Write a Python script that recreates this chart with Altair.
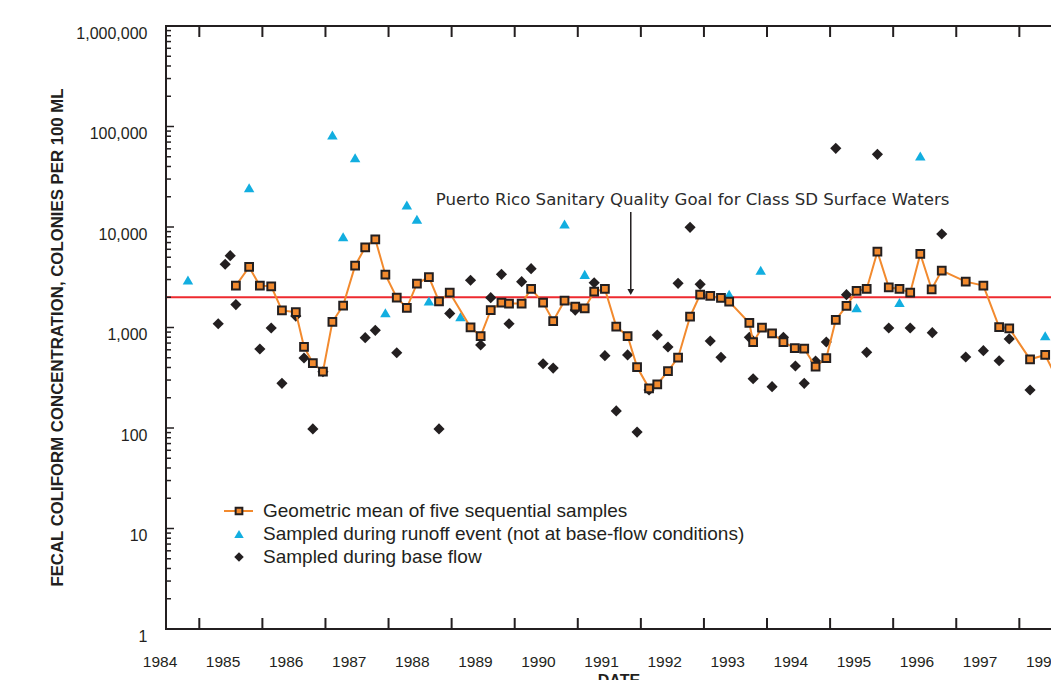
import altair as alt
import pandas as pd

# ---------------- data (decimal year, colonies per 100 mL) ----------------
gm_date = [1985.58, 1985.79, 1985.96, 1986.14, 1986.31, 1986.53, 1986.66, 1986.80, 1986.96, 1987.11,
           1987.28, 1987.47, 1987.63, 1987.79, 1987.95, 1988.13, 1988.29, 1988.45, 1988.64, 1988.80,
           1988.97, 1989.30, 1989.46, 1989.62, 1989.79, 1989.91, 1990.11, 1990.26, 1990.45, 1990.61,
           1990.79, 1990.96, 1991.11, 1991.26, 1991.43, 1991.61, 1991.79, 1991.94, 1992.13, 1992.26,
           1992.43, 1992.59, 1992.78, 1992.94, 1993.10, 1993.27, 1993.40, 1993.72, 1993.78, 1993.92,
           1994.08, 1994.26, 1994.44, 1994.59, 1994.77, 1994.94, 1995.09, 1995.26, 1995.42, 1995.58,
           1995.75, 1995.93, 1996.10, 1996.27, 1996.43, 1996.61, 1996.77, 1997.15, 1997.43, 1997.68,
           1997.84, 1998.17, 1998.41, 1998.60]
gm_value = [2610, 4000, 2610, 2570, 1480, 1420, 640, 443, 363, 1140,
            1650, 4120, 6280, 7550, 3350, 1980, 1570, 2730, 3180, 1820,
            2220, 1005, 823, 1490, 1770, 1730, 1730, 2420, 1770, 1160,
            1850, 1610, 1550, 2270, 2420, 1020, 823, 404, 248, 272,
            369, 501, 1280, 2120, 2060, 1970, 1810, 1110, 714, 995,
            876, 717, 625, 615, 407, 497, 1190, 1640, 2310, 2420,
            5680, 2510, 2420, 2220, 5390, 2400, 3680, 2860, 2610, 1010,
            982, 483, 533, 305]

ro_date = [1984.82, 1985.79, 1987.11, 1987.28, 1987.47, 1987.95, 1988.29, 1988.45, 1988.64, 1989.14,
           1990.79, 1991.11, 1993.40, 1993.90, 1995.42, 1996.10, 1996.43, 1998.41]
ro_value = [2970, 24600, 82300, 8010, 48900, 1400, 16550, 11930, 1835, 1280,
            10710, 3380, 2140, 3710, 1570, 1770, 50850, 829]

bf_date = [1985.30, 1985.41, 1985.49, 1985.58, 1985.96, 1986.14, 1986.31, 1986.53, 1986.66, 1986.80,
           1986.96, 1987.63, 1987.79, 1988.13, 1988.80, 1988.97, 1989.30, 1989.46, 1989.62, 1989.79,
           1989.91, 1990.11, 1990.26, 1990.45, 1990.61, 1990.96, 1991.26, 1991.43, 1991.61, 1991.79,
           1991.94, 1992.13, 1992.26, 1992.43, 1992.59, 1992.78, 1992.94, 1993.10, 1993.27, 1993.72,
           1993.78, 1994.08, 1994.26, 1994.45, 1994.59, 1994.77, 1994.94, 1995.09, 1995.26, 1995.58,
           1995.75, 1995.93, 1996.27, 1996.62, 1996.77, 1997.15, 1997.43, 1997.68, 1997.84, 1998.17,
           1998.60]
bf_value = [1090, 4260, 5180, 1690, 611, 988, 278, 1300, 497, 98,
            363, 792, 938, 561, 98, 1380, 2950, 670, 1980, 3380,
            1090, 2860, 3850, 436, 395, 1490, 2790, 524, 148, 533,
            91, 239, 842, 640, 2750, 9930, 2690, 734, 505, 799,
            309, 258, 799, 414, 278, 464, 717, 60700, 2120, 566,
            52900, 988, 988, 888, 8520, 509, 588, 467, 769, 239,
            36]

goal_value = 2000
goal_text = "Puerto Rico Sanitary Quality Goal for Class SD Surface Waters"
goal_text_pos = (1992.82, 18600)
arrow_date = 1991.84
arrow_top, arrow_head = 14100, 2256

tick_years = list(range(1985, 1999))
label_years = list(range(1984, 1999))
y_major = [1, 10, 100, 1000, 10000, 100000, 1000000]
y_minor = [m * d for d in [1, 10, 100, 1000, 10000, 100000] for m in range(2, 10)]

legend_labels = ["Geometric mean of five sequential samples",
                 "Sampled during runoff event (not at base-flow conditions)",
                 "Sampled during base flow"]
y_title = "FECAL COLIFORM CONCENTRATION, COLONIES PER 100 ML"
x_title = "DATE"

# ---------------- styling ----------------
W, H = 885, 603
INK = "#231F20"
ORANGE = "#F28A2E"
CYAN = "#12AEE0"
RED = "#EE2A2F"
SANS = "Liberation Sans"

xs = alt.Scale(domain=[1984.472, 1998.502], nice=False, zero=False)
ys = alt.Scale(type="log", domain=[1, 1000000], nice=False)
yaxis = alt.Axis(values=y_major, format=",", ticks=False, tickSize=0, domain=False, grid=False,
                 labelPadding=19, labelOffset=7, labelFontSize=16, labelFont=SANS, labelColor=INK,
                 title=y_title, titleX=-109, titleY=311, titleAngle=270, titleAlign="center",
                 titleBaseline="middle", titleFontSize=16.8, titleFontWeight="bold",
                 titleFont=SANS, titleColor=INK)


def X():
    return alt.X("t:Q", scale=xs, axis=None)


def Y():
    return alt.Y("v:Q", scale=ys, axis=yaxis)


gm = pd.DataFrame({"t": gm_date, "v": gm_value})
ro = pd.DataFrame({"t": ro_date, "v": ro_value})
bf = pd.DataFrame({"t": bf_date, "v": bf_value})
one = pd.DataFrame({"k": [0]})

# frame (left, top, bottom; the right side runs off the page)
frame_t = alt.Chart(one).mark_rule(color=INK, strokeWidth=2).encode(
    x=alt.value(0), x2=alt.value(W + 10), y=alt.value(0))
frame_b = alt.Chart(one).mark_rule(color=INK, strokeWidth=2).encode(
    x=alt.value(0), x2=alt.value(W + 10), y=alt.value(H))
frame_l = alt.Chart(one).mark_rule(color=INK, strokeWidth=2).encode(
    x=alt.value(0), y=alt.value(-1), y2=alt.value(H + 1))

goal = alt.Chart(pd.DataFrame({"v": [goal_value]})).mark_rule(color=RED, strokeWidth=2.2).encode(y=Y())

arrow_df = pd.DataFrame({"t": [arrow_date], "v": [arrow_top], "v2": [arrow_head]})
arrow = alt.Chart(arrow_df).mark_rule(color=INK, strokeWidth=1.5).encode(x=X(), y=Y(), y2="v2:Q")
arrow_tip = alt.Chart(pd.DataFrame({"t": [arrow_date], "v": [arrow_head]})).mark_point(
    shape="triangle-down", filled=True, color=INK, size=45, opacity=1).encode(x=X(), y=Y())
note = alt.Chart(pd.DataFrame({"t": [goal_text_pos[0]], "v": [goal_text_pos[1]], "s": [goal_text]})).mark_text(
    font="DejaVu Sans", fontSize=16.6, color="#2b2b2b", align="center", baseline="middle").encode(
    x=X(), y=Y(), text="s:N")

base_pts = alt.Chart(bf).mark_point(shape="diamond", filled=True, color=INK, size=125, opacity=1).encode(x=X(), y=Y())
run_pts = alt.Chart(ro).mark_point(shape="triangle-up", filled=True, color=CYAN, size=110, opacity=1).encode(x=X(), y=Y())
gm_line = alt.Chart(gm).mark_line(color=ORANGE, strokeWidth=2).encode(x=X(), y=Y())
gm_pts = alt.Chart(gm).mark_square(fill=ORANGE, stroke=INK, strokeWidth=2, size=60, opacity=1).encode(x=X(), y=Y())

ticks_df = pd.DataFrame({"t": tick_years})
bot_ticks = alt.Chart(ticks_df).mark_rule(color=INK, strokeWidth=2).encode(
    x=X(), y=alt.value(H), y2=alt.value(H - 11))
top_ticks = alt.Chart(ticks_df).mark_rule(color=INK, strokeWidth=2).encode(
    x=X(), y=alt.value(0), y2=alt.value(11))
ymaj = alt.Chart(pd.DataFrame({"v": y_major})).mark_rule(color=INK, strokeWidth=1.5).encode(
    y=Y(), x=alt.value(0), x2=alt.value(8))
ymin = alt.Chart(pd.DataFrame({"v": y_minor})).mark_rule(color=INK, strokeWidth=1.5).encode(
    y=Y(), x=alt.value(0), x2=alt.value(5))

lab_df = pd.DataFrame({"t": [y + 0.377 for y in label_years], "s": [str(y) for y in label_years]})
year_labels = alt.Chart(lab_df).mark_text(font=SANS, fontSize=15.5, color=INK, align="center",
                                          baseline="middle").encode(x=X(), y=alt.value(H + 33), text="s:N")
xt = alt.Chart(pd.DataFrame({"s": [x_title]})).mark_text(
    font=SANS, fontSize=16, fontWeight="bold", color=INK, align="center", baseline="top").encode(
    x=alt.value(453), y=alt.value(H + 44), text="s:N")

# legend
LX, LM, LT = 58, 73, 97
LY = [485, 508, 531]
leg_line = alt.Chart(one).mark_rule(color=ORANGE, strokeWidth=2).encode(
    x=alt.value(LX), x2=alt.value(LX + 29), y=alt.value(LY[0]))
leg_sq = alt.Chart(one).mark_square(fill=ORANGE, stroke=INK, strokeWidth=2, size=45, opacity=1).encode(
    x=alt.value(LM), y=alt.value(LY[0]))
leg_tri = alt.Chart(one).mark_point(shape="triangle-up", filled=True, color=CYAN, size=90, opacity=1).encode(
    x=alt.value(LM), y=alt.value(LY[1]))
leg_dia = alt.Chart(one).mark_point(shape="diamond", filled=True, color=INK, size=90, opacity=1).encode(
    x=alt.value(LM), y=alt.value(LY[2]))
leg_txt = [alt.Chart(pd.DataFrame({"s": [lbl]})).mark_text(
    font=SANS, fontSize=19, color=INK, align="left", baseline="middle").encode(
    x=alt.value(LT), y=alt.value(LY[i]), text="s:N") for i, lbl in enumerate(legend_labels)]

chart = alt.layer(
    goal, arrow, arrow_tip, note, base_pts, run_pts, gm_line, gm_pts,
    frame_t, frame_b, frame_l, bot_ticks, top_ticks, ymaj, ymin, year_labels, xt,
    leg_line, leg_sq, leg_tri, leg_dia, *leg_txt
).properties(
    width=W, height=H,
    padding={"left": 158, "top": 18, "right": 0, "bottom": 51},
    autosize=alt.AutoSizeParams(type="none"),
    background="white",
).configure_view(stroke=None)

chart.save("out.html", embed_options={"renderer": "svg", "actions": False})
